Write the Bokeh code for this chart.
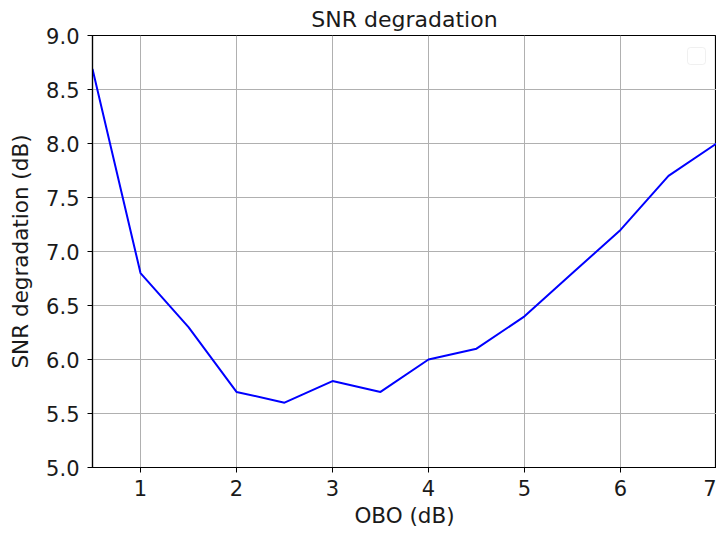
from bokeh.plotting import figure
from bokeh.models import Range1d, FixedTicker, BoxAnnotation, Title
from bokeh.embed import file_html
from bokeh.resources import INLINE

# Output back-off sweep and the measured SNR degradation
obo_db = [0.5, 1.0, 1.5, 2.0, 2.5, 3.0, 3.5, 4.0, 4.5, 5.0, 5.5, 6.0, 6.5, 7.0]
snr_deg_db = [8.69, 6.8, 6.3, 5.7, 5.6, 5.8, 5.7, 6.0, 6.1, 6.4, 6.8, 7.2, 7.7, 8.0]

x_ticks = [1, 2, 3, 4, 5, 6, 7]
y_ticks = [5.0, 5.5, 6.0, 6.5, 7.0, 7.5, 8.0, 8.5, 9.0]

FONT = "DejaVu Sans"
TEXT = "#1a1a1a"

p = figure(
    width=716, height=534,
    output_backend="svg", toolbar_location=None,
    x_range=Range1d(0.5, 7.0), y_range=Range1d(5.0, 9.0),
    min_border_left=92, min_border_right=0,
    min_border_top=35, min_border_bottom=67,
)
p.title = Title(text="SNR degradation", align="center",
                text_font=FONT, text_font_size="22px",
                text_font_style="normal", text_color=TEXT, standoff=8)

p.line(obo_db, snr_deg_db, line_color="#0000ff", line_width=2)

for ax in (p.xaxis, p.yaxis):
    ax.major_label_text_font = FONT
    ax.major_label_text_font_size = "21px"
    ax.major_label_text_color = TEXT
    ax.axis_label_text_font = FONT
    ax.axis_label_text_font_size = "21.5px"
    ax.axis_label_text_font_style = "normal"
    ax.axis_label_text_color = TEXT
    ax.axis_line_color = "black"
    ax.axis_line_width = 1.2
    ax.major_tick_line_color = "black"
    ax.major_tick_out = 5
    ax.major_tick_in = 0
    ax.minor_tick_line_color = None

p.xaxis.major_label_standoff = 7
p.yaxis.major_label_standoff = 8
p.xaxis.axis_label_standoff = 4
p.yaxis.axis_label_standoff = 10

p.xaxis.ticker = FixedTicker(ticks=x_ticks)
p.yaxis.ticker = FixedTicker(ticks=y_ticks)
p.yaxis.major_label_overrides = {t: f"{t:.1f}" for t in y_ticks}
p.xaxis.axis_label = "OBO (dB)"
p.yaxis.axis_label = "SNR degradation (dB)"

p.xgrid.ticker = FixedTicker(ticks=x_ticks)
p.ygrid.ticker = FixedTicker(ticks=y_ticks)
p.grid.grid_line_color = "#b0b0b0"
p.grid.grid_line_width = 1

p.outline_line_color = "black"
p.outline_line_width = 1.2
p.background_fill_color = "white"
p.border_fill_color = "white"

# Empty legend frame in the upper right corner
p.add_layout(BoxAnnotation(
    left=687, right=705, top=47, bottom=64,
    left_units="canvas", right_units="canvas",
    top_units="canvas", bottom_units="canvas",
    fill_color="white", fill_alpha=0.8,
    line_color="#cccccc", line_width=1, border_radius=3,
))

open("out.html", "w").write(file_html(p, INLINE))
